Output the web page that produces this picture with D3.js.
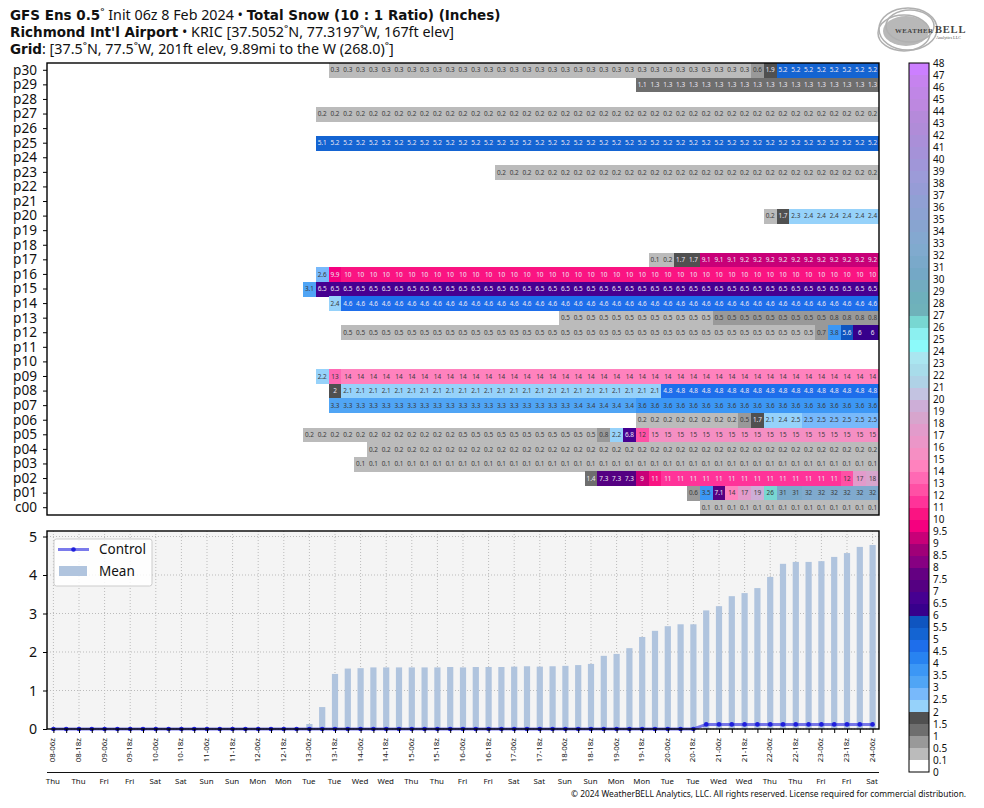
<!DOCTYPE html>
<html><head><meta charset="utf-8">
<script src="https://cdn.jsdelivr.net/npm/d3@7"></script>
<style>
html,body{margin:0;padding:0;background:#fff}
svg{display:block}
text{font-family:"Noto Sans",sans-serif;fill:#111}
.ttl{font-size:14.3px}
.b{font-family:"DejaVu Sans",sans-serif;font-weight:700;font-size:13.5px}
</style></head><body>
<svg id="c" width="984" height="808"></svg>
<script>
const titleLines = [
  [["GFS Ens 0.5", 1], ["˚ Init 06z 8 Feb 2024 • ", 0], ["Total Snow (10 : 1 Ratio) (Inches)", 1]],
  [["Richmond Int'l Airport", 1], [" • KRIC [37.5052˚N, 77.3197˚W, 167ft elev]", 0]],
  [["Grid", 1], [": [37.5˚N, 77.5˚W, 201ft elev, 9.89mi to the W (268.0)˚]", 0]]
];
const rowNames = ["p30","p29","p28","p27","p26","p25","p24","p23","p22","p21","p20","p19","p18","p17","p16","p15","p14","p13","p12","p11","p10","p09","p08","p07","p06","p05","p04","p03","p02","p01","c00"];
// first column index of each row's values (rows not listed have no snow)
const rowStarts = {p30:22,p29:46,p27:21,p25:21,p23:35,p20:56,p17:47,p16:21,p15:20,p14:22,p13:40,p12:23,p09:21,p08:22,p07:22,p06:46,p05:20,p04:25,p03:24,p02:42,p01:50,c00:51};
const p30 = [.3,.3,.3,.3,.3,.3,.3,.3,.3,.3,.3,.3,.3,.3,.3,.3,.3,.3,.3,.3,.3,.3,.3,.3,.3,.3,.3,.3,.3,.3,.3,.3,.3,.6,1.9,5.2,5.2,5.2,5.2,5.2,5.2,5.2,5.2];
const p29 = [1.1,1.3,1.3,1.3,1.3,1.3,1.3,1.3,1.3,1.3,1.3,1.3,1.3,1.3,1.3,1.3,1.3,1.3,1.3];
const p27 = [.2,.2,.2,.2,.2,.2,.2,.2,.2,.2,.2,.2,.2,.2,.2,.2,.2,.2,.2,.2,.2,.2,.2,.2,.2,.2,.2,.2,.2,.2,.2,.2,.2,.2,.2,.2,.2,.2,.2,.2,.2,.2,.2,.2];
const p25 = [5.1,5.2,5.2,5.2,5.2,5.2,5.2,5.2,5.2,5.2,5.2,5.2,5.2,5.2,5.2,5.2,5.2,5.2,5.2,5.2,5.2,5.2,5.2,5.2,5.2,5.2,5.2,5.2,5.2,5.2,5.2,5.2,5.2,5.2,5.2,5.2,5.2,5.2,5.2,5.2,5.2,5.2,5.2,5.2];
const p23 = [.2,.2,.2,.2,.2,.2,.2,.2,.2,.2,.2,.2,.2,.2,.2,.2,.2,.2,.2,.2,.2,.2,.2,.2,.2,.2,.2,.2,.2,.2];
const p20 = [.2,1.7,2.3,2.4,2.4,2.4,2.4,2.4,2.4];
const p17 = [.1,.2,1.7,1.7,9.1,9.1,9.1,9.2,9.2,9.2,9.2,9.2,9.2,9.2,9.2,9.2,9.2,9.2];
const p16 = [2.6,9.9,10,10,10,10,10,10,10,10,10,10,10,10,10,10,10,10,10,10,10,10,10,10,10,10,10,10,10,10,10,10,10,10,10,10,10,10,10,10,10,10,10,10];
const p15 = [3.1,6.5,6.5,6.5,6.5,6.5,6.5,6.5,6.5,6.5,6.5,6.5,6.5,6.5,6.5,6.5,6.5,6.5,6.5,6.5,6.5,6.5,6.5,6.5,6.5,6.5,6.5,6.5,6.5,6.5,6.5,6.5,6.5,6.5,6.5,6.5,6.5,6.5,6.5,6.5,6.5,6.5,6.5,6.5,6.5];
const p14 = [2.4,4.6,4.6,4.6,4.6,4.6,4.6,4.6,4.6,4.6,4.6,4.6,4.6,4.6,4.6,4.6,4.6,4.6,4.6,4.6,4.6,4.6,4.6,4.6,4.6,4.6,4.6,4.6,4.6,4.6,4.6,4.6,4.6,4.6,4.6,4.6,4.6,4.6,4.6,4.6,4.6,4.6,4.6];
const p13 = [.49,.49,.49,.49,.49,.49,.49,.49,.49,.49,.49,.49,.51,.51,.51,.51,.51,.51,.51,.51,.51,.8,.8,.8,.8];
const p12 = [.49,.49,.49,.49,.49,.49,.49,.49,.49,.49,.49,.49,.49,.49,.49,.49,.49,.49,.49,.49,.49,.49,.49,.49,.49,.49,.49,.49,.49,.49,.49,.49,.49,.49,.49,.49,.49,.7,3.8,5.6,6,6];
const p09 = [2.2,13,14,14,14,14,14,14,14,14,14,14,14,14,14,14,14,14,14,14,14,14,14,14,14,14,14,14,14,14,14,14,14,14,14,14,14,14,14,14,14,14,14,14];
const p08 = [1.96,2.1,2.1,2.1,2.1,2.1,2.1,2.1,2.1,2.1,2.1,2.1,2.1,2.1,2.1,2.1,2.1,2.1,2.1,2.1,2.1,2.1,2.1,2.1,2.1,2.1,4.8,4.8,4.8,4.8,4.8,4.8,4.8,4.8,4.8,4.8,4.8,4.8,4.8,4.8,4.8,4.8,4.8];
const p07 = [3.3,3.3,3.3,3.3,3.3,3.3,3.3,3.3,3.3,3.3,3.3,3.3,3.3,3.3,3.3,3.3,3.3,3.3,3.3,3.4,3.4,3.4,3.4,3.4,3.6,3.6,3.6,3.6,3.6,3.6,3.6,3.6,3.6,3.6,3.6,3.6,3.6,3.6,3.6,3.6,3.6,3.6,3.6];
const p06 = [.2,.2,.2,.2,.2,.2,.2,.2,.51,1.7,2.1,2.4,2.49,2.5,2.5,2.5,2.5,2.5,2.5];
const p05 = [.2,.2,.2,.2,.2,.2,.2,.2,.2,.2,.2,.2,.49,.49,.49,.49,.49,.49,.49,.49,.49,.49,.49,.8,2.2,6.8,12,15,15,15,15,15,15,15,15,15,15,15,15,15,15,15,15,15,15];
const p04 = [.2,.2,.2,.2,.2,.2,.2,.2,.2,.2,.2,.2,.2,.2,.2,.2,.2,.2,.2,.2,.2,.2,.2,.2,.2,.2,.2,.2,.2,.2,.2,.2,.2,.2,.2,.2,.2,.2,.2,.2];
const p03 = [.1,.1,.1,.1,.1,.1,.1,.1,.1,.1,.1,.1,.1,.1,.1,.1,.1,.1,.1,.1,.1,.1,.1,.1,.1,.1,.1,.1,.1,.1,.1,.1,.1,.1,.1,.1,.1,.1,.1,.1,.1];
const p02 = [1.4,7.3,7.3,7.3,9,10.9,11,11,11,11,11,11,11,11,11,11,11,11,11,11,12,17,18];
const p01 = [.6,3.5,7.1,14,17,19,26,31,31,32,32,32,32,32,32];
const c00 = [.1,.1,.1,.1,.1,.1,.1,.1,.1,.1,.1,.1,.1,.1];
const rowValues = {p30,p29,p27,p25,p23,p20,p17,p16,p15,p14,p13,p12,p09,p08,p07,p06,p05,p04,p03,p02,p01,c00};

const levels = [0,.1,.5,1,1.5,2,2.5,3,3.5,4,4.5,5,5.5,6,6.5,7,7.5,8,8.5,9,9.5,10,11,12,13,14,15,16,17,18,19,20,21,22,23,24,25,26,27,28,29,30,31,32,33,34,35,36,37,38,39,40,41,42,43,44,45,46,47,48];
const levelColors = ["#ffffff","#bbbbbb","#999999","#6e6e6e","#505050","#96d2fa","#78b9fb","#50a5f5","#3c97f5","#2883f1","#1e6eeb","#1464d2","#0f55c0","#37008c","#460091","#550082","#640082","#870082","#a00078","#c80078","#f5007f","#fa1482","#ff3399","#ff50a5","#ff69b4","#ff82be","#f58fc3","#eb96c8","#e29bcb","#d7a5cd","#cdaed7","#c3c3e1","#afd2e6","#a8dcea","#aae6f0","#8cfafa","#8cf0f0","#78d7d2","#6fb2ba","#6eb0bc","#72acc0","#74a8c6","#7aa9ca","#80aace","#84a8d0","#88a4d0","#8ca2d2","#90a0d4","#969cd6","#9c9bd8","#a096d8","#a592d8","#aa8fd8","#b08cd8","#b58ada","#bd88e0","#c086e6","#c683ee","#cc7fff"];

const tickDays = ["Thu","Thu","Fri","Fri","Sat","Sat","Sun","Sun","Mon","Mon","Tue","Tue","Wed","Wed","Thu","Thu","Fri","Fri","Sat","Sat","Sun","Sun","Mon","Mon","Tue","Tue","Wed","Wed","Thu","Thu","Fri","Fri","Sat"];
const tickLabels = ["08-06z","08-18z","09-06z","09-18z","10-06z","10-18z","11-06z","11-18z","12-06z","12-18z","13-06z","13-18z","14-06z","14-18z","15-06z","15-18z","16-06z","16-18z","17-06z","17-18z","18-06z","18-18z","19-06z","19-18z","20-06z","20-18z","21-06z","21-18z","22-06z","22-18z","23-06z","23-18z","24-06z"];

const meanSnow = [0,0,0,0,0,0,0,0,0,0,0,0,0,0,0,0,0,0,0,0,.13,.57,1.43,1.57,1.58,1.6,1.6,1.6,1.6,1.6,1.6,1.61,1.6,1.61,1.61,1.61,1.62,1.63,1.62,1.63,1.64,1.66,1.69,1.9,1.95,2.1,2.39,2.55,2.67,2.72,2.72,3.08,3.19,3.45,3.53,3.66,3.95,4.29,4.34,4.34,4.36,4.47,4.57,4.73,4.78];
const controlSnow = [0,0,0,0,0,0,0,0,0,0,0,0,0,0,0,0,0,0,0,0,0,0,0,0,0,0,0,0,0,0,0,0,0,0,0,0,0,0,0,0,0,0,0,0,0,0,0,0,0,0,0,.12,.12,.12,.12,.12,.12,.12,.12,.12,.12,.12,.12,.12,.12];
const yTicks = [0,1,2,3,4,5];
const legendItems = ["Control","Mean"];
const copyright = "© 2024 WeatherBELL Analytics, LLC. All rights reserved. License required for commercial distribution.";

const svg = d3.select("#c");
const L = 47, R = 879, T1 = 63, B1 = 515, T2 = 531, B2 = 729;
const stepCount = 64;
const x = d3.scaleLinear().domain([-.5, stepCount + .5]).range([L, R]);
const colW = x(1) - x(0);
const yRow = d3.scaleBand().domain(rowNames).range([T1, B1]);
const color = d3.scaleThreshold().domain(levels.slice(1)).range(levelColors);
const y = d3.scaleLinear().domain([0, 5]).range([B2, 536.5]);

// title
titleLines.forEach((runs, k) => {
  const t = svg.append("text").attr("class", "ttl").attr("x", 10).attr("y", 20 + k * 17);
  runs.forEach(r => t.append("tspan").attr("class", r[1] ? "b" : null).text(r[0]));
});

// heat cells
const cellData = [];
rowNames.forEach(n => { (rowValues[n] || []).forEach((v, k) => cellData.push({n, i: rowStarts[n] + k, v})); });
const gc = svg.append("g");
gc.selectAll("rect").data(cellData).join("rect")
  .attr("x", d => x(d.i - .5)).attr("y", d => yRow(d.n))
  .attr("width", colW + .4).attr("height", yRow.bandwidth() + .3)
  .attr("fill", d => color(d.v)).attr("shape-rendering", "crispEdges");
const fmtCell = v => v >= 10 ? String(Math.round(v)) : String(+v.toFixed(1));
const darkLabel = v => v < 1 || (v >= 2 && v < 4) || v >= 12;
gc.selectAll("text").data(cellData).join("text")
  .attr("x", d => x(d.i)).attr("y", d => yRow(d.n) + yRow.bandwidth() / 2 + 2.2)
  .attr("text-anchor", "middle").attr("font-size", 6.4)
  .style("fill", d => darkLabel(d.v) ? "#3a3a3a" : "#ece6f2")
  .text(d => fmtCell(d.v));
svg.append("rect").attr("x", L).attr("y", T1).attr("width", R - L).attr("height", B1 - T1)
  .attr("fill", "none").attr("stroke", "#000").attr("stroke-width", 1.4);
const ax1 = svg.append("g").attr("transform", `translate(${L},0)`)
  .call(d3.axisLeft(yRow).tickSize(4).tickPadding(6));
ax1.select(".domain").remove();
ax1.selectAll("text").attr("font-size", 13.6).style("font-family", '"Noto Sans",sans-serif').style("fill", "#111");
ax1.selectAll("line").attr("stroke", "#000");

// lower panel
svg.append("rect").attr("x", L).attr("y", T2).attr("width", R - L).attr("height", B2 - T2).attr("fill", "#f4f4f4");
const majorI = tickLabels.map((_, k) => k * 2);
const allI = d3.range(0, stepCount + 1);
svg.append("g").selectAll("line").data(majorI).join("line")
  .attr("x1", d => x(d)).attr("x2", d => x(d)).attr("y1", T2).attr("y2", B2)
  .attr("stroke", "#bbb").attr("stroke-dasharray", "1,2");
svg.append("g").selectAll("line").data(yTicks).join("line")
  .attr("x1", L).attr("x2", R).attr("y1", d => y(d)).attr("y2", d => y(d))
  .attr("stroke", "#bbb").attr("stroke-dasharray", "1,2");
svg.append("g").selectAll("rect").data(meanSnow).join("rect")
  .attr("x", (d, i) => x(i) - 3.1).attr("width", 6.2)
  .attr("y", d => y(d)).attr("height", d => B2 - y(d)).attr("fill", "#b0c4de");
const lineGen = d3.line().x((d, i) => x(i)).y(d => y(d));
svg.append("path").datum(controlSnow).attr("d", lineGen).attr("fill", "none")
  .attr("stroke", "#2222dd").attr("stroke-opacity", .6).attr("stroke-width", 3);
svg.append("g").selectAll("circle").data(controlSnow).join("circle")
  .attr("cx", (d, i) => x(i)).attr("cy", d => y(d)).attr("r", 2.3).attr("fill", "#1f1fdc");
svg.append("rect").attr("x", L).attr("y", T2).attr("width", R - L).attr("height", B2 - T2)
  .attr("fill", "none").attr("stroke", "#000").attr("stroke-width", 1.4);

const ayG = svg.append("g").attr("transform", `translate(${L},0)`)
  .call(d3.axisLeft(y).tickValues(yTicks).tickFormat(d3.format("d")).tickSize(4).tickPadding(6));
ayG.select(".domain").remove();
ayG.selectAll("text").attr("font-size", 14.2).style("font-family", '"Noto Sans",sans-serif').style("fill", "#111");
const axG = svg.append("g").attr("transform", `translate(0,${B2})`)
  .call(d3.axisBottom(x).tickValues(allI).tickSize(4).tickFormat(""));
axG.select(".domain").remove();
svg.append("g").selectAll("text").data(tickLabels).join("text")
  .attr("transform", (d, k) => `translate(${x(k * 2) + 1.9},738) rotate(-90)`)
  .attr("text-anchor", "end").attr("font-size", 7.9).text(d => d);
svg.append("line").attr("x1", L).attr("x2", R).attr("y1", 772.5).attr("y2", 772.5).attr("stroke", "#111");
svg.append("g").selectAll("text").data(tickDays).join("text")
  .attr("x", (d, k) => x(k * 2) - 0.5).attr("y", 784).attr("text-anchor", "middle")
  .attr("font-size", 7.9).text(d => d);

// legend
const lg = svg.append("g").attr("transform", "translate(54,539)");
lg.append("rect").attr("width", 98).attr("height", 47).attr("rx", 2.5).attr("fill", "#fff").attr("fill-opacity", .85).attr("stroke", "#ccc");
lg.append("line").attr("x1", 4).attr("x2", 35).attr("y1", 10.5).attr("y2", 10.5).attr("stroke", "#2222dd").attr("stroke-opacity", .6).attr("stroke-width", 3);
lg.append("circle").attr("cx", 19.5).attr("cy", 10.5).attr("r", 2.3).attr("fill", "#1f1fdc");
lg.append("rect").attr("x", 5).attr("y", 27).attr("width", 28).attr("height", 10).attr("fill", "#b0c4de");
lg.selectAll("text").data(legendItems).join("text")
  .attr("x", 45).attr("y", (d, k) => 15.2 + k * 22).attr("font-size", 13.5).text(d => d);

// colour bar
const CT = 63, CB = 772, CX = 909, CW = 20;
const yBar = d3.scalePoint().domain(levels.map(String)).range([CB, CT]);
svg.append("g").selectAll("rect").data(levelColors).join("rect")
  .attr("x", CX).attr("width", CW)
  .attr("y", (d, k) => yBar(String(levels[k + 1])))
  .attr("height", yBar.step() + .3).attr("fill", d => d).attr("shape-rendering", "crispEdges");
svg.append("rect").attr("x", CX).attr("y", CT).attr("width", CW).attr("height", CB - CT)
  .attr("fill", "none").attr("stroke", "#000").attr("stroke-width", 1);
svg.append("g").selectAll("text").data(levels).join("text")
  .attr("x", CX + CW + 4).attr("y", d => yBar(String(d)) + 3.6).attr("font-size", 10)
  .text(d => String(d));

svg.append("text").attr("x", 571).attr("y", 796.5).attr("font-size", 8.4).text(copyright);

// logo
const lgo = svg.append("g").attr("fill", "none");
lgo.append("ellipse").attr("cx", 906).attr("cy", 31).attr("rx", 23).attr("ry", 15).attr("fill", "#b8b8b8").attr("stroke", "none");
[[908, 29, 29, 21], [910, 26, 24, 16], [904, 33, 26, 18]].forEach(e =>
  lgo.append("ellipse").attr("cx", e[0]).attr("cy", e[1]).attr("rx", e[2]).attr("ry", e[3]).attr("stroke", "#b0b0b0").attr("stroke-width", 1.5));
svg.append("text").attr("x", 895).attr("y", 33).attr("font-size", 6.8).style("font-family", '"Liberation Serif",serif').style("fill", "#444").style("letter-spacing", ".5px").attr("font-weight", 700).text("WEATHER");
svg.append("text").attr("x", 935).attr("y", 33).attr("font-size", 10.5).style("font-family", '"Liberation Serif",serif').style("fill", "#444").style("letter-spacing", ".8px").attr("font-weight", 700).text("BELL");
svg.append("text").attr("x", 936).attr("y", 38.5).attr("font-size", 4.2).style("font-family", '"Liberation Serif",serif').style("fill", "#555").text("Analytics LLC");
</script></body></html>
